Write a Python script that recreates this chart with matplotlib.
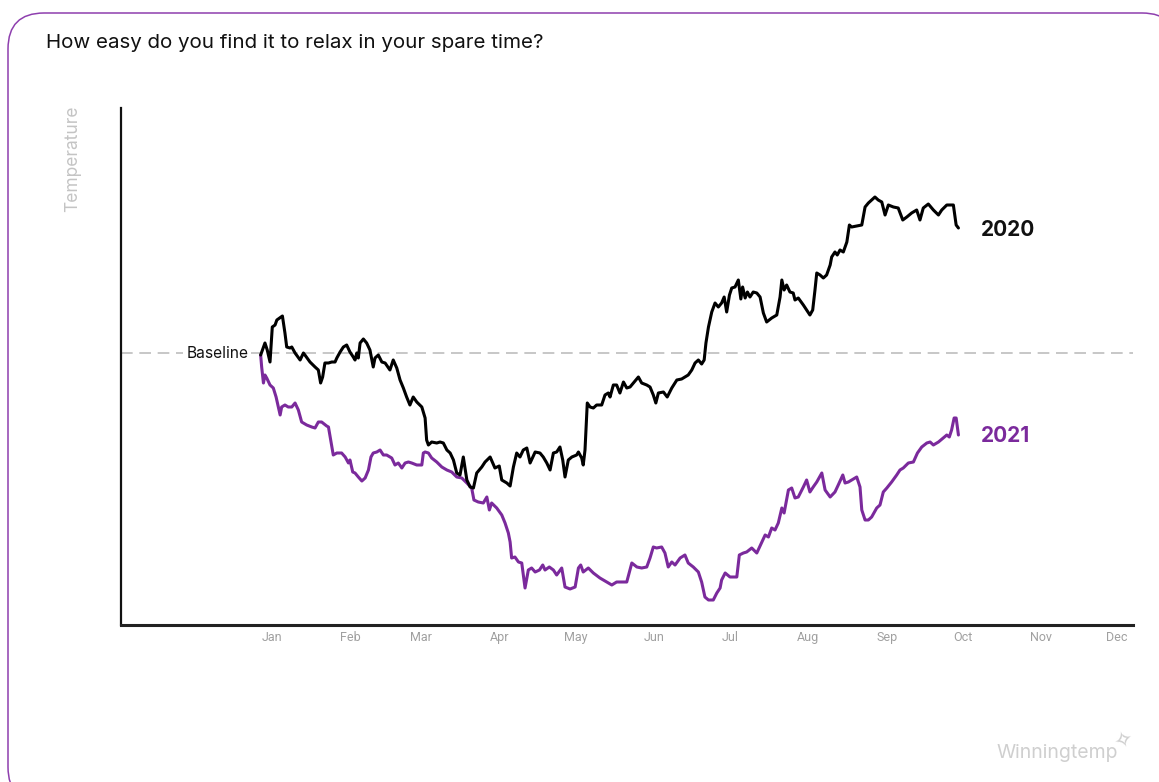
import matplotlib
matplotlib.use("Agg")
import matplotlib.pyplot as plt
from matplotlib.patches import FancyBboxPatch

# ---------------- data (day of year, index relative to baseline) ----------------
months = ["Jan", "Feb", "Mar", "Apr", "May", "Jun", "Jul", "Aug", "Sep", "Oct", "Nov", "Dec"]
month_start_day = [0, 31, 59, 90, 120, 151, 181, 212, 243, 273, 304, 334]

days_2020 = [-4.5, -2.8, -1.9, -0.8, 0.1, 1.2, 1.9, 4.1, 5.1, 5.8, 7.1, 7.8, 9.1, 11.1, 12.4, 13.0,
             15.0, 17.0, 18.3, 19.2, 20.0, 20.9, 22.3, 23.6, 24.9, 25.6, 26.9, 28.2, 29.5, 30.8, 32.1,
             32.8, 33.5, 34.1, 34.8, 36.1, 37.4, 38.7, 40.0, 40.7, 42.0, 43.4, 44.7, 46.6, 47.9, 49.3,
             50.6, 51.9, 53.2, 54.5, 55.8, 57.2, 59.2, 60.5, 61.1, 61.8, 63.1, 65.1, 66.4, 67.7, 69.1,
             70.4, 71.7, 73.0, 74.3, 75.6, 77.0, 78.3, 79.6, 80.9, 82.9, 84.2, 86.2, 88.1, 89.8, 90.8,
             92.8, 94.1, 95.4, 96.7, 98.0, 99.3, 100.7, 102.0, 104.0, 105.9, 107.2, 108.6, 109.9, 111.2,
             112.5, 113.8, 114.9, 115.8, 117.1, 118.5, 120.4, 121.1, 122.4, 123.0, 123.7, 124.6, 125.7,
             127.0, 128.3, 130.3, 131.6, 132.9, 133.6, 134.9, 136.2, 137.5, 138.9, 140.2, 141.5, 142.8,
             144.8, 146.1, 148.1, 149.4, 150.7, 151.7, 152.7, 154.7, 156.2, 158.0, 160.0, 161.9, 163.2,
             164.5, 165.9, 167.2, 168.5, 169.8, 170.8, 171.5, 172.5, 173.8, 175.1, 176.4, 177.7, 178.7,
             179.7, 180.8, 181.7, 183.0, 184.3, 185.3, 186.0, 187.0, 187.9, 188.9, 190.2, 191.6, 192.9,
             194.2, 195.5, 197.5, 199.5, 200.8, 201.5, 202.4, 203.4, 204.7, 206.0, 206.7, 208.0, 210.0,
             211.3, 212.6, 213.7, 214.6, 215.3, 216.6, 217.9, 219.2, 220.6, 221.2, 222.5, 223.4, 224.5,
             225.8, 227.2, 228.2, 229.1, 231.1, 233.1, 234.4, 235.7, 237.0, 238.3, 239.6, 241.0, 242.3,
             243.6, 245.6, 247.5, 249.3, 250.9, 252.8, 254.8, 256.1, 257.4, 259.4, 261.4, 263.4, 264.7,
             266.7, 269.3, 270.4, 271.3]
values_2020 = [-0.2, 1.0, 0.3, -0.9, 2.6, 2.8, 3.3, 3.7, 2.0, 0.6, 0.5, 0.6, 0.0, -0.7, 0.0, -0.2,
               -0.9, -1.4, -1.7, -3.0, -2.4, -1.0, -1.0, -0.9, -0.9, -0.5, 0.1, 0.6, 0.8, 0.1, -0.4,
               -0.7, 0.0, -0.5, 1.0, 1.4, 1.0, 0.3, -1.4, -0.5, -0.2, -0.9, -1.0, -1.7, -0.7, -1.5,
               -2.7, -3.5, -4.4, -5.2, -4.4, -4.9, -5.4, -6.5, -8.7, -9.2, -8.9, -9.0, -8.9, -9.0, -9.7,
               -10.0, -10.7, -12.0, -12.2, -10.4, -12.7, -13.4, -13.5, -12.0, -11.4, -10.9, -10.4, -11.5,
               -11.3, -12.7, -13.0, -13.3, -11.4, -10.0, -10.4, -9.7, -9.5, -11.0, -9.9, -10.0, -10.4,
               -11.0, -11.7, -10.0, -9.9, -9.4, -10.7, -12.4, -10.7, -10.4, -10.2, -9.9, -10.5, -11.2,
               -9.7, -5.0, -5.4, -5.5, -5.2, -5.2, -4.2, -4.0, -4.4, -3.2, -3.2, -4.0, -2.9, -3.5, -3.4,
               -3.0, -2.4, -3.0, -3.2, -3.4, -4.2, -5.0, -4.0, -3.9, -4.4, -3.5, -2.7, -2.6, -2.4, -2.2,
               -1.7, -1.0, -0.7, -1.1, -0.7, 1.0, 2.6, 4.1, 5.0, 4.6, 5.0, 5.6, 4.1, 5.8, 6.5, 6.6, 7.3,
               5.4, 6.6, 5.5, 6.1, 5.6, 6.1, 6.0, 5.6, 4.0, 3.1, 3.5, 3.8, 5.6, 7.3, 6.3, 6.8, 6.1, 6.0,
               5.3, 5.5, 4.8, 4.3, 3.8, 4.3, 6.3, 8.0, 7.8, 7.5, 7.8, 8.8, 9.6, 10.1, 9.8, 10.3, 10.1,
               11.1, 12.8, 12.6, 12.7, 12.8, 14.6, 15.0, 15.3, 15.6, 15.3, 15.1, 13.8, 14.8, 14.6, 14.5,
               13.3, 13.6, 14.0, 14.3, 13.3, 14.5, 14.9, 14.3, 13.8, 14.3, 14.8, 14.8, 12.8, 12.5]

days_2021 = [-4.5, -4.1, -3.4, -2.8, -2.1, -0.8, 0.5, 1.6, 2.5, 3.2, 3.8, 5.1, 6.4, 7.8, 9.1, 10.4,
             11.7, 13.7, 15.7, 17.0, 18.3, 19.6, 21.6, 22.3, 23.2, 24.2, 25.6, 27.5, 28.9, 30.2, 30.8,
             31.9, 32.8, 34.1, 35.5, 36.8, 38.1, 39.1, 40.0, 41.4, 42.7, 44.0, 45.3, 47.3, 48.6, 49.9,
             51.3, 52.6, 53.9, 55.2, 57.2, 59.2, 59.8, 60.5, 61.8, 63.1, 65.1, 67.1, 69.1, 71.0, 73.0,
             75.0, 77.0, 78.9, 79.8, 81.5, 83.5, 84.9, 85.9, 86.8, 88.8, 90.8, 92.1, 93.4, 94.1, 94.7,
             96.0, 97.4, 98.7, 100.0, 101.3, 102.6, 104.0, 105.7, 107.0, 107.9, 109.6, 111.2, 112.5,
             114.5, 115.8, 117.8, 119.8, 121.1, 122.0, 123.0, 125.0, 127.0, 129.6, 132.3, 134.3, 136.2,
             138.2, 140.2, 142.2, 144.2, 146.1, 148.1, 149.4, 150.7, 152.0, 154.0, 155.3, 156.6, 158.0,
             159.3, 161.3, 163.2, 164.5, 166.5, 168.5, 169.8, 171.1, 172.5, 174.4, 175.8, 177.1, 177.7,
             179.1, 181.0, 183.7, 184.7, 186.3, 187.6, 189.6, 191.6, 193.6, 194.9, 196.2, 197.5, 198.8,
             200.1, 201.5, 202.4, 204.1, 205.4, 206.7, 208.0, 210.0, 211.3, 212.6, 213.9, 215.3, 217.3,
             218.6, 220.6, 222.5, 223.8, 225.6, 226.5, 227.8, 229.1, 231.1, 232.4, 233.1, 234.4, 235.7,
             237.0, 239.0, 240.3, 241.6, 243.0, 244.9, 246.9, 248.2, 249.5, 251.5, 253.5, 255.1, 256.8,
             258.8, 260.1, 261.4, 263.4, 265.3, 266.7, 267.7, 268.6, 269.6, 270.4, 271.3]
values_2021 = [-0.2, -1.4, -3.0, -2.2, -2.5, -3.2, -3.5, -4.4, -5.4, -6.2, -5.4, -5.2, -5.4, -5.4, -5.0,
               -5.7, -6.9, -7.2, -7.4, -7.5, -6.9, -6.9, -7.3, -7.4, -8.7, -10.2, -10.0, -10.0, -10.4,
               -11.0, -10.7, -11.9, -12.0, -12.4, -12.8, -12.5, -11.7, -10.4, -10.0, -9.9, -9.7, -10.2,
               -10.2, -10.5, -11.2, -11.0, -11.5, -11.0, -10.9, -11.0, -11.2, -11.2, -10.0, -9.9, -10.0,
               -10.5, -10.9, -11.4, -11.7, -11.9, -12.4, -12.5, -13.0, -13.5, -14.7, -14.9, -15.0, -14.4,
               -15.7, -15.0, -15.5, -16.2, -17.0, -18.0, -18.9, -20.5, -20.4, -20.9, -21.0, -23.5, -21.7,
               -21.5, -21.9, -21.7, -21.2, -21.7, -21.4, -21.7, -22.2, -21.5, -23.4, -23.6, -23.4, -21.5,
               -21.2, -21.9, -21.5, -22.0, -22.5, -22.9, -23.2, -22.9, -22.9, -22.9, -21.0, -21.4, -21.5,
               -21.4, -20.5, -19.4, -19.5, -19.4, -20.0, -21.4, -20.9, -21.2, -20.5, -20.2, -21.0, -21.4,
               -21.9, -22.9, -24.4, -24.7, -24.7, -24.0, -23.5, -22.7, -22.0, -22.4, -22.4, -20.2, -20.0,
               -19.9, -19.5, -20.0, -18.9, -18.2, -18.4, -17.5, -17.7, -17.0, -15.5, -16.0, -13.7, -13.5,
               -14.5, -14.4, -13.4, -12.7, -13.9, -13.4, -12.9, -12.0, -13.7, -14.4, -13.9, -13.2, -12.2,
               -13.0, -12.9, -12.7, -12.4, -13.4, -15.7, -16.7, -16.7, -16.4, -15.5, -15.2, -13.9, -13.5,
               -12.9, -12.2, -11.7, -11.5, -11.0, -10.9, -10.0, -9.4, -9.0, -8.9, -9.2, -8.9, -8.5, -8.2,
               -8.4, -7.7, -6.5, -6.5, -8.2]

title = "How easy do you find it to relax in your spare time?"
purple = "#7b2a9c"

# ---------------- figure ----------------
W, H = 1159, 782
fig = plt.figure(figsize=(W / 100, H / 100), dpi=100)
fig.patch.set_facecolor("white")

# background card
bg = fig.add_axes([0, 0, 1, 1], zorder=0)
bg.set_xlim(0, W)
bg.set_ylim(H, 0)
bg.axis("off")
card = FancyBboxPatch((8, 13), 1170, 790, boxstyle="round,pad=0,rounding_size=36",
                      facecolor="white", edgecolor="#8e3fae", linewidth=1.1)
bg.add_patch(card)
bg.text(46, 43, title, fontsize=14.8, family="Inter", color="#111111", va="center", ha="left")
bg.text(73, 159, "Temperature", fontsize=12.5, family="Inter", color="#c4c4c4",
        va="center", ha="center", rotation=90)
bg.text(1057, 753, "Winningtemp", fontsize=14, family="Inter", color="#cfcfcf",
        va="center", ha="center")
bg.text(1124, 742, "\u2727", fontsize=16, family="DejaVu Sans", color="#cfcfcf",
        va="center", ha="center", rotation=20)

# main axes
ax = fig.add_axes([121 / W, 1 - 625 / H, (1133 - 121) / W, (625 - 108) / H], zorder=1)
ax.patch.set_alpha(0)
ax.set_xlim(-59.7, 340.3)
ax.set_ylim(-27.2, 24.5)

for s in ["top", "right"]:
    ax.spines[s].set_visible(False)
ax.spines["left"].set_linewidth(1.6)
ax.spines["bottom"].set_linewidth(2.2)
ax.spines["left"].set_color("#111111")
ax.spines["bottom"].set_color("#222222")

ax.set_yticks([])
ax.set_xticks(month_start_day)
ax.set_xticklabels(months, fontsize=9, color="#a0a0a0", family="Roboto")
ax.tick_params(axis="x", length=0, pad=4)

ax.axhline(0, color="#bdbdbd", linewidth=1.2, dashes=(7, 4), zorder=1)

ax.plot(days_2020, values_2020, color="#000000", linewidth=2.2, zorder=3,
        solid_joinstyle="round", solid_capstyle="round")
ax.plot(days_2021, values_2021, color=purple, linewidth=2.2, zorder=2,
        solid_joinstyle="round", solid_capstyle="round")

ax.text(-21.7, 0, "Baseline", fontsize=11.2, family="Inter", color="#111111", va="center", ha="center",
        bbox=dict(facecolor="white", edgecolor="none", pad=2), zorder=2)

ax.text(280.2, values_2020[-1] - 0.2, "2020", fontsize=15, family="Inter", fontweight="bold",
        color="#111111", va="center", ha="left")
ax.text(280.2, values_2021[-1] - 0.1, "2021", fontsize=15, family="Inter", fontweight="bold",
        color=purple, va="center", ha="left")

fig.savefig("out.png", dpi=100, facecolor="white")
